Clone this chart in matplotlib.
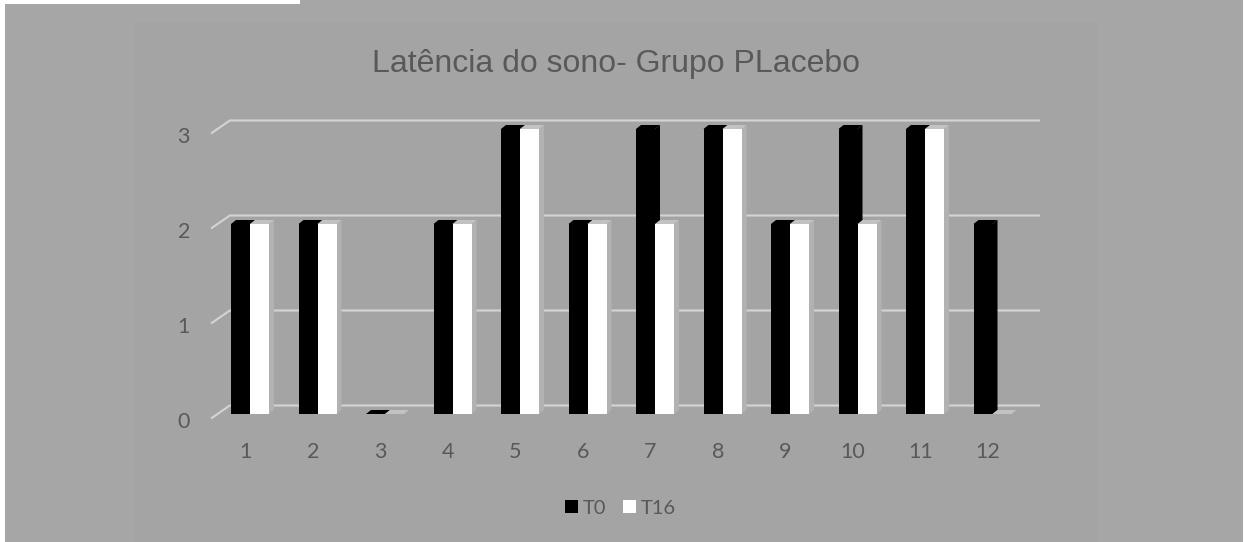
import matplotlib
matplotlib.use("Agg")
import matplotlib.pyplot as plt
from matplotlib.patches import Polygon, Rectangle, Patch
from matplotlib.transforms import ScaledTranslation

# --- data -------------------------------------------------------------
categories = [str(i) for i in range(1, 13)]
t0 = [2, 2, 0, 2, 3, 2, 3, 3, 2, 3, 3, 2]
t16 = [2, 2, 0, 2, 3, 2, 2, 3, 2, 2, 3, 0]
series_labels = ["T0", "T16"]
yticks = [0, 1, 2, 3]
title = "Latência do sono- Grupo PLacebo"

# --- style ------------------------------------------------------------
W, H, DPI = 1247, 542, 100
OUTER_BG = "#a6a6a6"
PANEL_BG = "#a4a4a4"
TEXT = "#595959"
GRID = "#d4d4d4"
WHITE_TOP = "#c2c2c2"
WHITE_SIDE = "#b2b2b2"
TICK_FONT = "Lato"
TITLE_FONT = "Liberation Sans"

fig = plt.figure(figsize=(W / DPI, H / DPI), dpi=DPI, facecolor=OUTER_BG)


def fig_rect(x, y_top, w, h, color):
    """Rectangle in pixel units measured from the top-left corner."""
    fig.patches.append(Rectangle((x / W, (H - y_top - h) / H), w / W, h / H,
                                 transform=fig.transFigure, facecolor=color,
                                 edgecolor="none", zorder=-10))


# chart panel and white page margins
fig_rect(135, 22, 1098 - 135, H - 22, PANEL_BG)
fig_rect(0, 0, 5, H, "white")
fig_rect(W - 4, 0, 4, H, "white")
fig_rect(0, 0, 300, 4, "white")

# plot axes: one category = 67.5 px, one unit = 95 px, zero 128 px above bottom
ymin, ymax = -0.3, 3.4
x_unit, y_unit = 67.5, 95.0
left_px = 250 - 0.5 * x_unit
ax = fig.add_axes([left_px / W, (128 + y_unit * ymin) / H,
                   len(categories) * x_unit / W, y_unit * (ymax - ymin) / H])
ax.set_xlim(0.5, len(categories) + 0.5)
ax.set_ylim(ymin, ymax)
ax.patch.set_visible(False)
for s in ax.spines.values():
    s.set_visible(False)

ppx = ax.bbox.width / (ax.get_xlim()[1] - ax.get_xlim()[0])
ppy = ax.bbox.height / (ax.get_ylim()[1] - ax.get_ylim()[0])

# gridlines on the back wall with the short floor-edge slant on the left
x0, x1 = ax.get_xlim()
for v in yticks:
    xs = [x0 - 5.25 / ppx, x0 + 13.5 / ppx, x1 + 13.75 / ppx]
    ys = [v - 4.5 / ppy, v + 8.5 / ppy, v + 8.5 / ppy]
    ax.plot(xs, ys, color=GRID, lw=1.5, clip_on=False, zorder=1,
            solid_capstyle="butt")

# pseudo-3D clustered columns
bw = 19 / ppx
ddx, ddy = 5 / ppx, 4 / ppy
pos = list(range(1, len(categories) + 1))


def add_depth(bars, top_color, side_color, z):
    for b in bars:
        xl, xr, v = b.get_x(), b.get_x() + b.get_width(), b.get_height()
        top = [(xl, v), (xr, v), (xr + ddx, v + ddy), (xl + ddx, v + ddy)]
        side = [(xr, 0), (xr, v), (xr + ddx, v + ddy), (xr + ddx, ddy)]
        ax.add_patch(Polygon(side, closed=True, facecolor=side_color,
                             edgecolor="none", zorder=z, clip_on=False))
        ax.add_patch(Polygon(top, closed=True, facecolor=top_color,
                             edgecolor="none", zorder=z, clip_on=False))


b0 = ax.bar([p - bw for p in pos], t0, width=bw, align="edge",
            color="black", zorder=2.1, clip_on=False)
add_depth(b0, "black", "black", 2.0)
b1 = ax.bar(pos, t16, width=bw, align="edge",
            color="white", zorder=3.1, clip_on=False)
add_depth(b1, WHITE_TOP, WHITE_SIDE, 3.0)

# ticks
ax.set_xticks(pos, categories)
ax.set_yticks(yticks, [str(v) for v in yticks])
ax.tick_params(axis="both", length=0, labelcolor=TEXT, labelsize=15.5)
ax.tick_params(axis="x", pad=0)
ax.tick_params(axis="y", pad=26.25 * 72 / DPI)
for lab in ax.get_xticklabels():
    lab.set_fontfamily(TICK_FONT)
    lab.set_transform(lab.get_transform() +
                      ScaledTranslation(-4.5 / DPI, 0, fig.dpi_scale_trans))
for lab in ax.get_yticklabels():
    lab.set_fontfamily(TICK_FONT)
    lab.set_transform(lab.get_transform() +
                      ScaledTranslation(0, -6 / DPI, fig.dpi_scale_trans))

# title
fig.text(616 / W, (H - 72) / H, title, ha="center", va="baseline",
         fontsize=23, color=TEXT, family=TITLE_FONT)

# legend
handles = [Patch(facecolor="black", edgecolor="none"),
           Patch(facecolor="white", edgecolor="none")]
fig.legend(handles, series_labels, loc="center",
           bbox_to_anchor=(620.5 / W, (H - 508) / H), ncol=2, frameon=False,
           prop={"family": TICK_FONT, "size": 14.5}, labelcolor=TEXT,
           handlelength=0.65, handleheight=0.65, handletextpad=0.26,
           columnspacing=0.8, borderpad=0, borderaxespad=0)

fig.savefig("out.png", dpi=DPI, facecolor=OUTER_BG)
